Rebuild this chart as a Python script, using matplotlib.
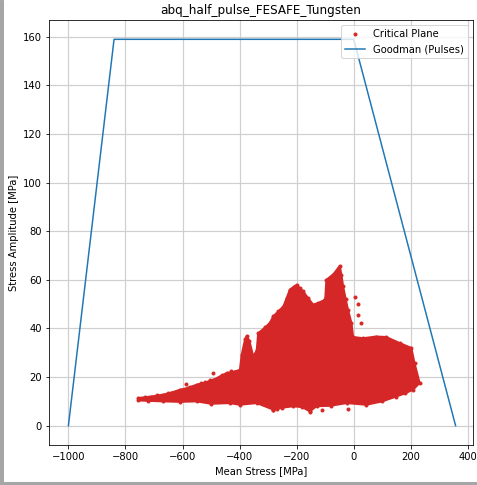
import matplotlib
matplotlib.use("Agg")
import matplotlib.pyplot as plt
from matplotlib.patches import Rectangle

# Goodman (Pulses) envelope
goodman_mean = [-1000, -840, 0, 357]
goodman_amp = [0, 159, 159, 0]

# Critical plane point cloud: outline of the dense region
cloud_mean = [-755, -710, -667, -640, -609, -580, -550, -520, -492, -470,
              -445, -420, -399, -393, -381, -375, -366, -352, -340, -335,
              -310, -294, -282, -265, -247, -235, -224, -210, -200, -188,
              -177, -160, -142, -125, -113, -100, -96, -70, -49, -43,
              -37, -28, -20, -8, -2, 33, 79, 114, 161, 202,
              213, 231, 208, 180, 149, 100, 44, -25, -80, -130,
              -154, -180, -212, -250, -282, -340, -400, -434, -500, -550,
              -610, -667, -720, -755]
cloud_amp = [11.4, 12.0, 12.8, 13.6, 14.8, 15.6, 16.9, 17.8, 18.9, 20.2,
             21.7, 22.2, 23.0, 29.0, 35.5, 37.0, 35.0, 28.5, 31.0, 38.0,
             40.5, 42.3, 45.0, 47.0, 49.0, 52.5, 56.0, 57.2, 58.0, 56.5,
             55.3, 52.5, 49.8, 50.5, 51.0, 52.0, 60.0, 62.5, 65.8, 62.0,
             57.3, 52.0, 47.7, 42.3, 36.5, 36.0, 36.7, 36.5, 34.0, 32.0,
             25.8, 17.6, 14.8, 13.3, 12.0, 10.0, 8.6, 9.3, 8.2, 8.0,
             5.9, 7.6, 8.0, 7.4, 6.6, 9.3, 8.6, 9.3, 9.0, 10.0,
             9.8, 10.0, 10.2, 10.4]

# isolated critical plane points
extra_mean = [-589, -493, -372, 3.5, 15, 14, 27, -283, -270, -154, -110, -20,
              -730, -690, -650, -575, -535, -505, -460, -430]
extra_amp = [17.3, 21.8, 23.5, 53.0, 50.0, 45.7, 42.3, 6.3, 6.8, 5.6, 6.5, 7.0,
             11.9, 12.6, 13.4, 15.9, 17.6, 18.6, 21.0, 22.4]

red = "#d62728"
blue = "#1f77b4"

W, H, DPI = 477, 485, 72
fig = plt.figure(figsize=(W / DPI, H / DPI), dpi=DPI)
ax = fig.add_axes([49 / W, 1 - 445 / H, (473 - 49) / W, (445 - 20) / H])

ax.fill(cloud_mean, cloud_amp, color=red, edgecolor=red, linewidth=2.0,
        joinstyle="round", zorder=2)
ax.plot(cloud_mean + extra_mean, cloud_amp + extra_amp, ".", color=red,
        label="Critical Plane", zorder=2)
ax.plot(goodman_mean, goodman_amp, "-", color=blue,
        label="Goodman (Pulses)", zorder=3)

ax.set_xlim(-1068, 418)
ax.set_ylim(-7.95, 166.95)
ax.set_xticks([-1000, -800, -600, -400, -200, 0, 200, 400])
ax.set_yticks([0, 20, 40, 60, 80, 100, 120, 140, 160])
ax.grid(True, color="#cfcfcf", linewidth=1.2)
ax.set_axisbelow(True)
ax.set_title("abq_half_pulse_FESAFE_Tungsten")
ax.set_xlabel("Mean Stress [MPa]")
ax.set_ylabel("Stress Amplitude [MPa]")
ax.legend(loc="upper right")

# screenshot border
fig.patches.append(Rectangle((0, 0), 3 / W, 1, transform=fig.transFigure,
                             color="#a6a6a6", zorder=10))
fig.patches.append(Rectangle((0, 0), 1, 3 / H, transform=fig.transFigure,
                             color="#a6a6a6", zorder=10))

fig.savefig("out.png", dpi=DPI)
